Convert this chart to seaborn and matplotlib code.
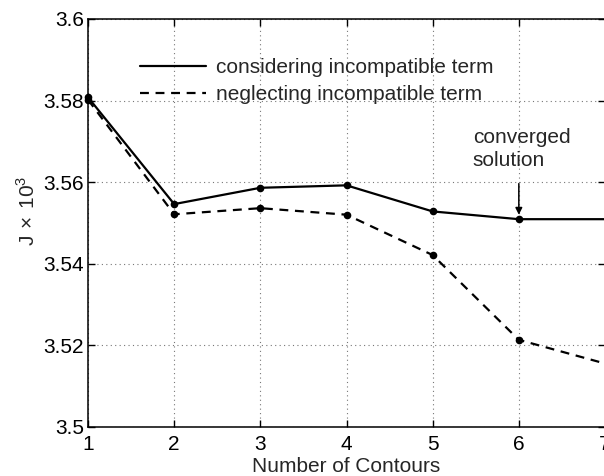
import pandas as pd
import numpy as np
import matplotlib
matplotlib.use("Agg")
import matplotlib.pyplot as plt
import seaborn as sns
from matplotlib.lines import Line2D

sns.set_style("ticks")
plt.rcParams["font.family"] = ["Liberation Sans", "DejaVu Sans"]
plt.rcParams["mathtext.fontset"] = "custom"
plt.rcParams["mathtext.rm"] = "Liberation Sans"

# values
contours = [1, 2, 3, 4, 5, 6, 7]
considering = [3.5808, 3.5546, 3.5586, 3.5592, 3.5528, 3.5509, 3.5509]
neglecting = [3.5802, 3.5521, 3.5536, 3.5520, 3.5421, 3.5213, 3.5155]
labels = ["considering incompatible term", "neglecting incompatible term"]

df = pd.DataFrame({
    "contours": contours * 2,
    "J": considering + neglecting,
    "case": [labels[0]] * len(contours) + [labels[1]] * len(contours),
})

fig = plt.figure(figsize=(6.04, 4.76), dpi=100)
ax = fig.add_axes([88 / 604, 1 - 426.7 / 476, 517 / 604, (426.7 - 19) / 476])

sns.lineplot(data=df, x="contours", y="J", style="case",
             dashes={labels[0]: "", labels[1]: (4, 3)},
             color="black", linewidth=1.6, legend=False, ax=ax,
             marker="o", markersize=5.5, markeredgewidth=0, clip_on=False)
# no marker on the last (cut-off) point
for ln in ax.get_lines():
    ln.set_markevery(list(range(len(contours) - 1)))

ax.set_xlim(1, 7)
ax.set_ylim(3.5, 3.6)
ax.set_xticks(contours)
ax.set_yticks([3.5, 3.52, 3.54, 3.56, 3.58, 3.6])
ax.set_yticklabels(["3.5", "3.52", "3.54", "3.56", "3.58", "3.6"])
ax.grid(True, linestyle=(0, (1, 3)), color="#777777", linewidth=0.8)
ax.tick_params(direction="in", length=5, width=1, colors="black",
               labelsize=15, top=True, right=True)
ax.tick_params(axis="x", pad=6)
ax.tick_params(axis="y", pad=3)
for s in ax.spines.values():
    s.set_color("black")
    s.set_linewidth(1.1)

ax.set_xlabel("Number of Contours", fontsize=15, labelpad=2)
ax.set_ylabel(r"J$\,\times\,$10$^3$", fontsize=15, labelpad=3, y=0.53)

handles = [Line2D([], [], color="black", lw=1.6),
           Line2D([], [], color="black", lw=1.6, dashes=(4, 3))]
ax.legend(handles, labels, loc="upper left", bbox_to_anchor=(0.1, 0.904),
          frameon=False, fontsize=15, handlelength=3.17, handletextpad=0.5,
          labelspacing=0.4, borderpad=0, borderaxespad=0)

ax.annotate("", xy=(6, 3.5513), xytext=(6, 3.5603),
            arrowprops=dict(arrowstyle="-|>", color="black", lw=1.1,
                            mutation_scale=10))
ax.text(5.465, 3.5732, "converged\nsolution", fontsize=15, va="top",
        ha="left", linespacing=1.25)

fig.savefig("out.png", dpi=100)
